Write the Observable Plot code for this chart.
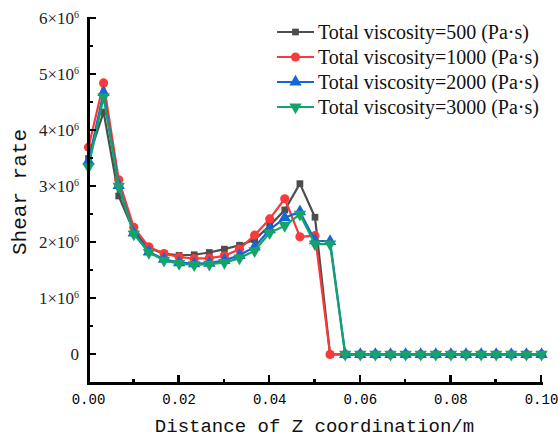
<!DOCTYPE html>
<html><head><meta charset="utf-8">
<script src="https://cdn.jsdelivr.net/npm/d3@7"></script>
<script src="https://cdn.jsdelivr.net/npm/@observablehq/plot@0.6"></script>
<style>
html,body{margin:0;padding:0;background:#fff;}
#chart{position:relative;width:559px;height:437px;}
.axpart{position:absolute;background:#000;}
</style>
</head><body><div id="chart"></div>
<script>
// Distance of Z coordination (m)
const distance = [0, 0.00333, 0.00667, 0.01, 0.01333, 0.01667, 0.02, 0.02333, 0.02667, 0.03,
  0.03333, 0.03667, 0.04, 0.04333, 0.04667, 0.05, 0.05333, 0.05667, 0.06, 0.06333,
  0.06667, 0.07, 0.07333, 0.07667, 0.08, 0.08333, 0.08667, 0.09, 0.09333, 0.09667, 0.1];

const seriesNames = [
  "Total viscosity=500 (Pa·s)",
  "Total viscosity=1000 (Pa·s)",
  "Total viscosity=2000 (Pa·s)",
  "Total viscosity=3000 (Pa·s)"
];

// Shear rate values
const v500 = [3.5e6, 4.33e6, 2.83e6, 2.2e6, 1.9e6, 1.8e6, 1.77e6, 1.78e6, 1.82e6, 1.88e6,
  1.95e6, 2.05e6, 2.3e6, 2.58e6, 3.05e6, 2.45e6, 0, 0, 0, 0, 0, 0, 0, 0, 0, 0, 0, 0, 0, 0, 0];
const v1000 = [3.7e6, 4.85e6, 3.12e6, 2.27e6, 1.92e6, 1.8e6, 1.74e6, 1.71e6, 1.72e6, 1.76e6,
  1.88e6, 2.13e6, 2.42e6, 2.78e6, 2.1e6, 2.12e6, 0, 0, 0, 0, 0, 0, 0, 0, 0, 0, 0, 0, 0, 0, 0];
const v2000 = [3.45e6, 4.68e6, 3.02e6, 2.17e6, 1.83e6, 1.7e6, 1.64e6, 1.62e6, 1.63e6, 1.68e6,
  1.77e6, 1.92e6, 2.23e6, 2.44e6, 2.55e6, 2.03e6, 2.02e6, 0, 0, 0, 0, 0, 0, 0, 0, 0, 0, 0, 0, 0, 0];
const v3000 = [3.35e6, 4.6e6, 3.0e6, 2.15e6, 1.82e6, 1.68e6, 1.62e6, 1.6e6, 1.61e6, 1.64e6,
  1.72e6, 1.85e6, 2.17e6, 2.3e6, 2.5e6, 1.97e6, 1.97e6, 0, 0, 0, 0, 0, 0, 0, 0, 0, 0, 0, 0, 0, 0];

const yTicks = [0, 1e6, 2e6, 3e6, 4e6, 5e6, 6e6];
const yMinorTicks = [0.5e6, 1.5e6, 2.5e6, 3.5e6, 4.5e6, 5.5e6];
const xTicks = [0, 0.02, 0.04, 0.06, 0.08, 0.1];
const xMinorTicks = [0.01, 0.03, 0.05, 0.07, 0.09];

const colors = ["#4d4d4d", "#f83a3a", "#1766d6", "#14a36a"];
const symbols = ["square", "circle", "triangle", "triangle"];
const rotations = [0, 0, 0, 180];
const radii = [3.8, 4.6, 4.6, 4.6];
const allValues = [v500, v1000, v2000, v3000];

const yMin = -0.52e6, yMax = 6e6;
const tables = allValues.map((vals, k) => distance.map((d, i) => ({x: d, y: vals[i]})));

const marks = [];
tables.forEach((t, k) => {
  marks.push(Plot.line(t, {x: "x", y: "y", stroke: colors[k], strokeWidth: 2.2}));
  marks.push(Plot.dot(t, {x: "x", y: "y", symbol: symbols[k], fill: colors[k], stroke: "none", r: radii[k], rotate: rotations[k]}));
});

const plot = Plot.plot({
  width: 559,
  height: 437,
  marginLeft: 88,
  marginRight: 18,
  marginTop: 18,
  marginBottom: 54,
  x: {domain: [0, 0.1]},
  y: {domain: [yMin, yMax]},
  marks: [
    Plot.axisX({ticks: xTicks, tickSize: 0, tickPadding: 11, tickFormat: d => d.toFixed(2),
      fontFamily: "Liberation Mono", fontSize: 14, fill: "#000", label: null}),
    Plot.axisY({ticks: [], label: null}),
    Plot.ruleX([0], {stroke: "#000", strokeWidth: 3}),
    Plot.ruleY([yMin], {stroke: "#000", strokeWidth: 3}),
    ...marks
  ]
});

const chart = document.getElementById("chart");
chart.appendChild(plot);

const svg = d3.select(plot);
const xs = plot.scale("x"), ys = plot.scale("y");
const X = v => xs.apply(v), Y = v => ys.apply(v);
const x0 = X(0), y0 = Y(yMin), yTop = Y(yMax), xRight = X(0.1);

// axis lines and inward ticks as positioned overlay boxes, placed with the plot scales
function box(left, top, w, h) {
  const d = document.createElement("div");
  d.className = "axpart";
  d.style.left = left + "px"; d.style.top = top + "px";
  d.style.width = w + "px"; d.style.height = h + "px";
  chart.appendChild(d);
}
box(x0 - 1.5, yTop - 1.5, 3, y0 - yTop + 3);
box(x0 - 1.5, y0 - 1.5, xRight - x0 + 3, 3);
yTicks.forEach(t => box(x0, Y(t) - 1.25, 8, 2.5));
yMinorTicks.forEach(t => box(x0, Y(t) - 1.25, 4.5, 2.5));
xTicks.forEach(t => box(X(t) - 1.25, y0 - 8, 2.5, 8));
xMinorTicks.forEach(t => box(X(t) - 1.25, y0 - 4.5, 2.5, 4.5));

const g = svg.append("g").attr("text-anchor", "start");

// y tick labels a×10^6
yTicks.forEach(t => {
  const txt = g.append("text").attr("x", x0 - 9).attr("y", Y(t)).attr("dy", "0.35em")
    .attr("text-anchor", "end").attr("font-family", "Liberation Serif").attr("font-size", 17).attr("fill", "#222");
  if (t === 0) { txt.text("0"); }
  else {
    txt.append("tspan").text((t / 1e6) + "×10");
    txt.append("tspan").attr("font-size", 10).attr("dy", "-0.55em").text("6");
  }
});

// axis titles
g.append("text").attr("x", (x0 + xRight) / 2).attr("y", 425).attr("dy", "0.35em")
  .attr("text-anchor", "middle").attr("font-family", "Liberation Mono").attr("font-size", 19).attr("fill", "#111")
  .text("Distance of Z coordination/m");
g.append("text").attr("transform", "translate(19,192) rotate(-90)").attr("dy", "0.35em")
  .attr("text-anchor", "middle").attr("font-family", "Liberation Mono").attr("font-size", 21).attr("fill", "#111")
  .text("Shear rate");

// legend
const symMap = {square: d3.symbolSquare, circle: d3.symbolCircle, triangle: d3.symbolTriangle};
seriesNames.forEach((name, k) => {
  const ly = 32 + 25 * k;
  g.append("path").attr("d", `M277,${ly}H314`).attr("fill", "none")
    .attr("stroke", colors[k]).attr("stroke-width", 2.2);
  g.append("path").attr("d", d3.symbol(symMap[symbols[k]], Math.PI * radii[k] * radii[k])())
    .attr("transform", `translate(295.5,${ly}) rotate(${rotations[k]})`).attr("fill", colors[k]);
  g.append("text").attr("x", 318).attr("y", ly).attr("dy", "0.33em").attr("text-anchor", "start")
    .attr("font-family", "Liberation Serif").attr("font-size", 20).attr("fill", "#111").text(name);
});
</script>
</body></html>
